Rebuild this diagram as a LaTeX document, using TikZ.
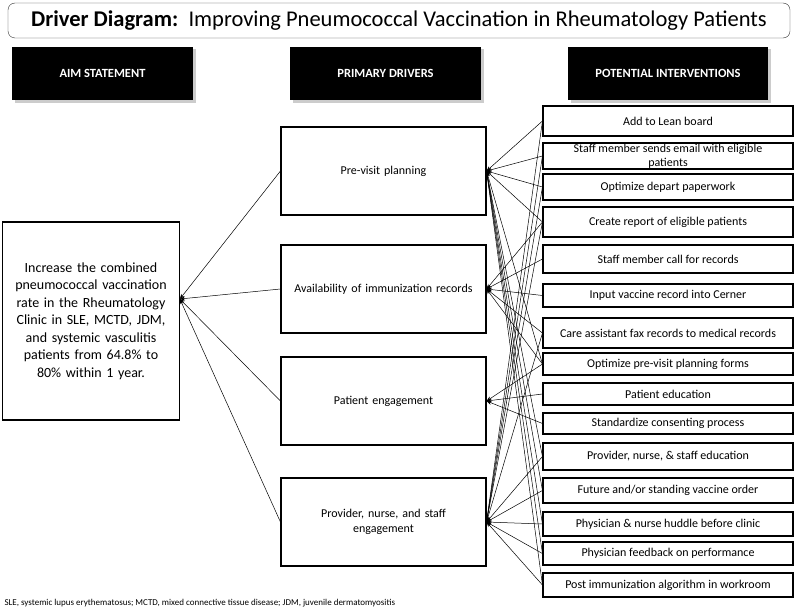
\documentclass[tikz,border=0pt]{standalone}
\usepackage{fontspec}
\setmainfont{Carlito}
\usetikzlibrary{arrows.meta,shadows}

\begin{document}
\begin{tikzpicture}[
    x=1pt, y=-1pt,
    every node/.style={font=\fontsize{11}{13}\selectfont},
    titlebox/.style={draw=black!80, rounded corners=7pt, minimum width=782pt, minimum height=35pt, font=\fontsize{22.5}{26}\selectfont},
    header/.style={fill=black, text=white, minimum height=53pt, font=\bfseries\fontsize{12.5}{14}\selectfont, drop shadow={shadow xshift=2.5pt, shadow yshift=-2.5pt, opacity=0.4}},
    aimbox/.style={draw, line width=1.1pt, align=center, minimum width=176pt, minimum height=198pt, text width=170pt, font=\fontsize{14}{17.5}\selectfont},
    driver/.style={draw, line width=1.1pt, align=center, minimum width=205pt, minimum height=88pt, text width=195pt, font=\fontsize{12}{15}\selectfont},
    action/.style={draw, line width=1.1pt, align=center, minimum width=250pt, inner sep=0pt, font=\fontsize{12}{14}\selectfont},
    flow/.style={-{Stealth[length=5pt, width=4pt]}, line width=0.5pt}
]
\useasboundingbox (0,0) rectangle (800,610);

% title and column heads
\node[titlebox] (title) at (399,20.5) {\textbf{Driver Diagram:}\ \ Improving Pneumococcal Vaccination in Rheumatology Patients};
\node[header, minimum width=181pt] (headaim) at (102.5,73.5) {AIM STATEMENT};
\node[header, minimum width=191pt] (headdrv) at (385.5,73.5) {PRIMARY DRIVERS};
\node[header, minimum width=200pt] (headint) at (668,73.5) {POTENTIAL INTERVENTIONS};

% aim and drivers
\node[aimbox] (aim) at (91,321) {Increase the combined\\pneumococcal vaccination\\rate in the Rheumatology\\Clinic in SLE, MCTD, JDM,\\and systemic vasculitis\\patients from 64.8\% to\\80\% within 1 year.};
\coordinate (aimtip) at ([yshift=22pt]aim.east);
\node[driver] (pre) at (383.5,171) {Pre-visit planning};
\node[driver] (avail) at (383.5,289) {Availability of immunization records};
\node[driver] (patient) at (383.5,401) {Patient engagement};
\node[driver] (provider) at (383.5,522) {Provider, nurse, and staff\\engagement};

% interventions
\node[action, minimum height=30pt] (lean) at (668,121) {Add to Lean board};
\node[action, minimum height=26pt] (email) at (668,156) {Staff member sends email with eligible\\patients};
\node[action, minimum height=26pt] (depart) at (668,187) {Optimize depart paperwork};
\node[action, minimum height=30pt] (report) at (668,222) {Create report of eligible patients};
\node[action, minimum height=28pt] (call) at (668,259) {Staff member call for records};
\node[action, minimum height=23pt] (cerner) at (668,295.5) {Input vaccine record into Cerner};
\node[action, minimum height=30pt] (fax) at (668,333) {Care assistant fax records to medical records};
\node[action, minimum height=22pt] (forms) at (668,364) {Optimize pre-visit planning forms};
\node[action, minimum height=22pt] (educ) at (668,394) {Patient education};
\node[action, minimum height=21pt] (consent) at (668,423.5) {Standardize consenting process};
\node[action, minimum height=27pt] (staffed) at (668,456.5) {Provider, nurse, \& staff education};
\node[action, minimum height=25pt] (order) at (668,490.5) {Future and/or standing vaccine order};
\node[action, minimum height=24pt] (huddle) at (668,524) {Physician \& nurse huddle before clinic};
\node[action, minimum height=23pt] (feedback) at (668,553.5) {Physician feedback on performance};
\node[action, minimum height=24pt] (algo) at (668,585) {Post immunization algorithm in workroom};

\node[anchor=west, font=\fontsize{9}{10}\selectfont] (note) at (1,603) {SLE, systemic lupus erythematosus; MCTD, mixed connective tissue disease; JDM, juvenile dermatomyositis};

% drivers to aim
\draw[flow] (pre.west) -- (aimtip);
\draw[flow] (avail.west) -- (aimtip);
\draw[flow] (patient.west) -- (aimtip);
\draw[flow] (provider.west) -- (aimtip);

% interventions to drivers
\draw[flow] (lean.west) -- (pre.east);
\draw[flow] (email.west) -- (pre.east);
\draw[flow] (depart.west) -- (pre.east);
\draw[flow] (report.west) -- (pre.east);
\draw[flow] (forms.west) -- (pre.east);
\draw[flow] (staffed.west) -- (pre.east);
\draw[flow] (order.west) -- (pre.east);
\draw[flow] (huddle.west) -- (pre.east);
\draw[flow] (feedback.west) -- (pre.east);
\draw[flow] (algo.west) -- (pre.east);
\draw[flow] (report.west) -- (avail.east);
\draw[flow] (call.west) -- (avail.east);
\draw[flow] (cerner.west) -- (avail.east);
\draw[flow] (fax.west) -- (avail.east);
\draw[flow] (forms.west) -- (avail.east);
\draw[flow] (forms.west) -- (patient.east);
\draw[flow] (educ.west) -- (patient.east);
\draw[flow] (consent.west) -- (patient.east);
\draw[flow] (lean.west) -- (provider.east);
\draw[flow] (email.west) -- (provider.east);
\draw[flow] (depart.west) -- (provider.east);
\draw[flow] (report.west) -- (provider.east);
\draw[flow] (fax.west) -- (provider.east);
\draw[flow] (staffed.west) -- (provider.east);
\draw[flow] (order.west) -- (provider.east);
\draw[flow] (huddle.west) -- (provider.east);
\draw[flow] (feedback.west) -- (provider.east);
\draw[flow] (algo.west) -- (provider.east);
\end{tikzpicture}
\end{document}
